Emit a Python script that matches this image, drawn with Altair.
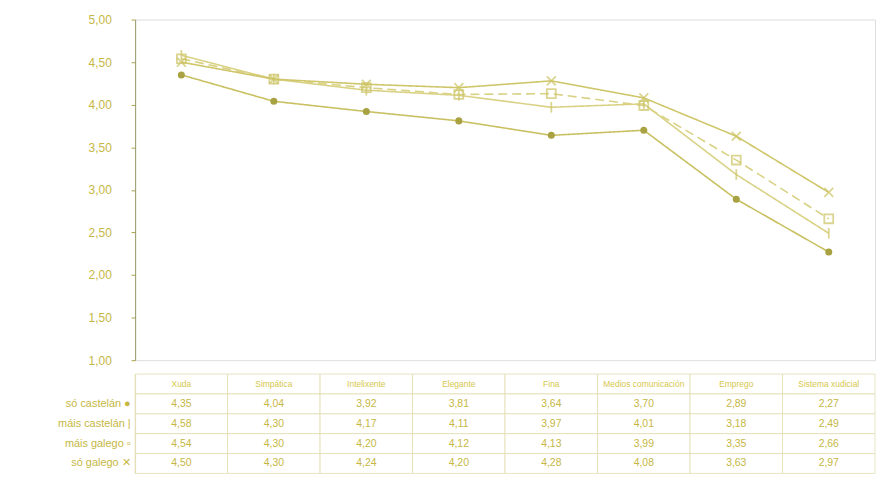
import altair as alt
import pandas as pd

categories = ["Xuda", "Simpática", "Intelixente", "Elegante", "Fina",
              "Medios comunicación", "Emprego", "Sistema xudicial"]
series = ["só castelán", "máis castelán", "máis galego", "só galego"]
series_marks = ["●", "|", "▫", "✕"]

so_castelan = [4.35, 4.04, 3.92, 3.81, 3.64, 3.70, 2.89, 2.27]
mais_castelan = [4.58, 4.30, 4.17, 4.11, 3.97, 4.01, 3.18, 2.49]
mais_galego = [4.54, 4.30, 4.20, 4.12, 4.13, 3.99, 3.35, 2.66]
so_galego = [4.50, 4.30, 4.24, 4.20, 4.28, 4.08, 3.63, 2.97]

y_ticks = [1.0, 1.5, 2.0, 2.5, 3.0, 3.5, 4.0, 4.5, 5.0]

all_values = [so_castelan, mais_castelan, mais_galego, so_galego]

rows = []
for s, vals in zip(series, all_values):
    for c, v in zip(categories, vals):
        rows.append({"serie": s, "categoria": c, "valor": v})
df = pd.DataFrame(rows)

DARK = "#a9a243"
TEXT = "#c6b743"
GRID = "#e2ddb2"
FONT = "Liberation Sans"

x_line = alt.X("categoria:N", sort=categories,
               scale=alt.Scale(type="point", padding=0.5), axis=None)
y_line = alt.Y("valor:Q",
               scale=alt.Scale(domain=[1, 5], nice=False, zero=False),
               axis=alt.Axis(values=y_ticks, title=None, grid=False,
                             labelExpr="replace(format(datum.value, '.2f'), '.', ',')",
                             labelColor=TEXT, labelFont=FONT, labelFontSize=12,
                             labelPadding=20, tickSize=4, tickColor=DARK,
                             domainColor="#9a9a6a", minExtent=127, maxExtent=127))

lines = alt.Chart(df).mark_line(strokeWidth=1.6).encode(
    x=x_line, y=y_line,
    detail="serie:N",
    color=alt.Color("serie:N", scale=alt.Scale(domain=series,
                    range=["#c9c062", "#d9d285", "#d9d285", "#cfc66a"]), legend=None),
    strokeDash=alt.StrokeDash("serie:N", scale=alt.Scale(domain=series,
                    range=[[1, 0], [1, 0], [9, 5], [1, 0]]), legend=None),
)

open_pts = alt.Chart(df).transform_filter(
    alt.datum.serie != "só castelán"
).mark_point(filled=False, strokeWidth=1.8, size=80).encode(
    x=x_line, y=y_line,
    shape=alt.Shape("serie:N", scale=alt.Scale(domain=series[1:],
                    range=["M0,-1.2V1.2", "square", "M-1,-1L1,1M-1,1L1,-1"]), legend=None),
    color=alt.value("#cdc464"),
)

filled_pts = alt.Chart(df).transform_filter(
    alt.datum.serie == "só castelán"
).mark_point(filled=True, shape="circle", size=50, opacity=1).encode(
    x=x_line, y=y_line, color=alt.value(DARK),
)

top = alt.layer(lines, open_pts, filled_pts).properties(width=745, height=343)

# table
trows = []
for c in categories:
    trows.append({"fila": "cab", "categoria": c, "txt": c, "kind": "h"})
for s, vals in zip(series, all_values):
    for c, v in zip(categories, vals):
        trows.append({"fila": s, "categoria": c,
                      "txt": f"{v:.2f}".replace(".", ","), "kind": "v"})
tdf = pd.DataFrame(trows)

label_map = {s: f"{s} {m}" for s, m in zip(series, series_marks)}
label_expr = "datum.value == 'cab' ? '' : " + " : ".join(
    f"datum.value == '{s}' ? '{label_map[s]}'" for s in series) + " : ''"

x_t = alt.X("categoria:N", sort=categories,
            scale=alt.Scale(paddingInner=0, paddingOuter=0), axis=None)
y_t = alt.Y("fila:N", sort=["cab"] + series,
            scale=alt.Scale(paddingInner=0, paddingOuter=0),
            axis=alt.Axis(title=None, labelExpr=label_expr, labelColor=TEXT,
                          labelFont=FONT, labelFontSize=11, ticks=False,
                          domain=True, domainColor=GRID, labelPadding=5,
                          minExtent=127, maxExtent=127))

cells = alt.Chart(tdf).mark_rect(fill="white", stroke=GRID, strokeWidth=0.8).encode(
    x=x_t, y=y_t)
vals_txt = alt.Chart(tdf).transform_filter(alt.datum.kind == "v").mark_text(
    font=FONT, fontSize=10.5, color=TEXT).encode(x=x_t, y=y_t, text="txt:N")
head_txt = alt.Chart(tdf).transform_filter(alt.datum.kind == "h").mark_text(
    font=FONT, fontSize=8.5, color="#d6c84e").encode(x=x_t, y=y_t, text="txt:N")

table = alt.layer(cells, vals_txt, head_txt).properties(
    width=745, height=100, view=alt.ViewBackground(strokeOpacity=0))

chart = alt.vconcat(top, table, spacing=6).properties(
    padding={"left": 0, "top": 3, "right": 0, "bottom": 0}
).configure_view(stroke="#d8d3a0").configure(background="white")

chart.save("out.html", embed_options={"renderer": "svg", "actions": False})
